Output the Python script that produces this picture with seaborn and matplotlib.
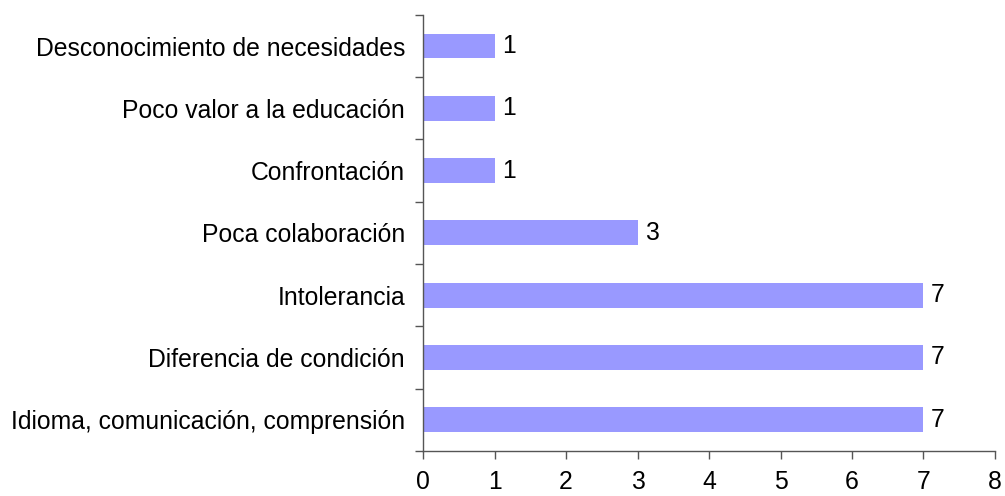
import numpy as np
import pandas as pd
import matplotlib.pyplot as plt
import seaborn as sns

# Data (top to bottom)
categories = ['Desconocimiento de necesidades', 'Poco valor a la educación',
              'Confrontación', 'Poca colaboración', 'Intolerancia',
              'Diferencia de condición', 'Idioma, comunicación, comprensión']
values = [1, 1, 1, 3, 7, 7, 7]

df = pd.DataFrame({'cat': categories, 'val': values})

sns.set_style('white')
plt.rcParams['font.family'] = ['Liberation Sans', 'DejaVu Sans']
plt.rcParams['text.color'] = 'black'
plt.rcParams['xtick.color'] = 'black'
plt.rcParams['ytick.color'] = 'black'

fig = plt.figure(figsize=(10.05, 4.96), dpi=100)
ax = fig.add_axes([0.421, 0.091, 0.569, 0.879])

sns.barplot(data=df, x='val', y='cat', orient='h', color='#9999FF',
            saturation=1, width=0.4, linewidth=0, ax=ax)

for i, v in enumerate(values):
    ax.text(v + 0.1, i, str(v), va='center', ha='left', fontsize=17.8, color='black')

ax.set_xlim(0, 8)
ax.set_ylim(len(categories) - 0.5, -0.5)
ax.set_xticks(range(0, 9))
ax.set_xlabel('')
ax.set_ylabel('')

# tick marks between categories
ax.set_yticks(np.arange(-0.5, len(categories), 1), minor=True)
ax.tick_params(axis='y', which='major', length=0, pad=13, labelsize=17.8)
ax.tick_params(axis='y', which='minor', length=6, width=1, color='#555555', left=True)
ax.tick_params(axis='x', which='major', length=6, width=1, color='#555555',
               bottom=True, pad=8, labelsize=17.8)

sns.despine(ax=ax)
for s in ['left', 'bottom']:
    ax.spines[s].set_color('#555555')
    ax.spines[s].set_linewidth(1)

fig.savefig('out.png', dpi=100)
